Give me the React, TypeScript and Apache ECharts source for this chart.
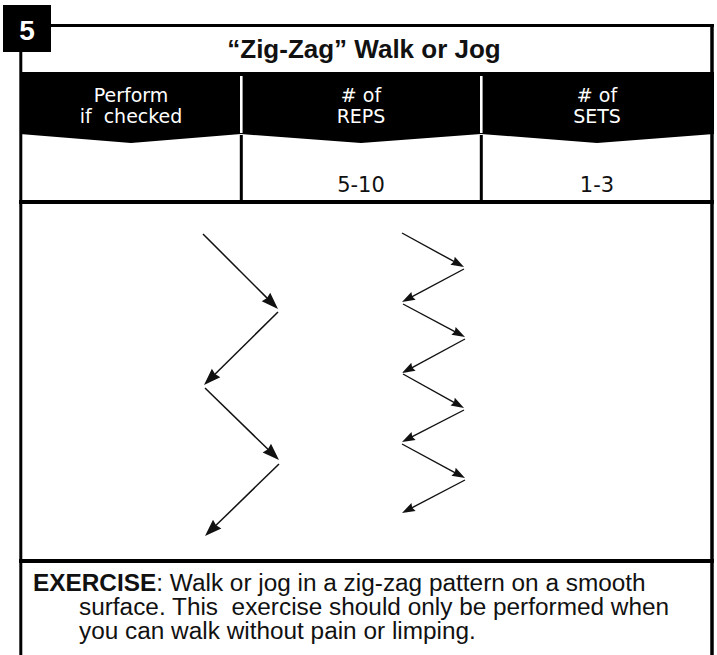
import React, { useEffect, useRef } from 'react';
import * as echarts from 'echarts';

// ---- content ----
const cardNumber = '5';
const title = '“Zig-Zag” Walk or Jog';
const headerTop = ['Perform', '# of', '# of'];
const headerBottom = ['if  checked', 'REPS', 'SETS'];
const rowValues = ['', '5-10', '1-3'];
const exerciseLabel = 'EXERCISE';
const exerciseLine1 = ': Walk or jog in a zig-zag pattern on a smooth';
const exerciseLine2 = 'surface. This  exercise should only be performed when';
const exerciseLine3 = 'you can walk without pain or limping.';

// ---- zig-zag paths: segments [x1, y1, x2, y2] in figure-panel units ----
const wideZigZag = [
  [181, 30, 256, 105],
  [256, 108, 182, 181],
  [183, 184, 257, 256],
  [257, 260, 183, 332],
];
const tightZigZag = [
  [380, 29, 442, 63],
  [442, 65, 380, 98],
  [381, 100, 443, 133],
  [443, 135, 380, 169],
  [381, 170, 442, 204],
  [442, 206, 380, 238],
  [380, 240, 443, 274],
  [443, 276, 380, 309],
];
const panelWidth = 690;
const panelHeight = 355;

const INK = '#111111';

function arrowRenderer(headLen: number, headW: number, lw: number) {
  return (params: any, api: any) => {
    const p1 = api.coord([api.value(0), api.value(1)]);
    const p2 = api.coord([api.value(2), api.value(3)]);
    const dx = p2[0] - p1[0];
    const dy = p2[1] - p1[1];
    const L = Math.hypot(dx, dy) || 1;
    const ux = dx / L;
    const uy = dy / L;
    const nx = -uy;
    const ny = ux;
    const bx = p2[0] - ux * headLen;
    const by = p2[1] - uy * headLen;
    return {
      type: 'group',
      children: [
        {
          type: 'line',
          shape: { x1: p1[0], y1: p1[1], x2: bx + ux * 2, y2: by + uy * 2 },
          style: { stroke: INK, lineWidth: lw },
        },
        {
          type: 'polygon',
          shape: {
            points: [
              [p2[0], p2[1]],
              [bx + (nx * headW) / 2, by + (ny * headW) / 2],
              [bx + ux * 1.5, by + uy * 1.5],
              [bx - (nx * headW) / 2, by - (ny * headW) / 2],
            ],
          },
          style: { fill: INK },
        },
      ],
    };
  };
}

const colCenters = [131, 361, 597];

export default function App() {
  const ref = useRef<HTMLDivElement>(null);

  useEffect(() => {
    if (!ref.current) return;
    const chart = echarts.init(ref.current, undefined, { renderer: 'svg' });

    const headerFont = 'DejaVu Sans, Verdana, sans-serif';
    const bodyFont = 'Liberation Sans, Arial, Helvetica, sans-serif';

    const elements: any[] = [];
    // header black band with chevron bottoms
    elements.push({
      type: 'polygon',
      shape: {
        points: [
          [20, 72],
          [714, 72],
          [714, 134],
          [597, 143],
          [481, 134],
          [361, 143],
          [241, 134],
          [131, 143],
          [20, 134],
        ],
      },
      style: { fill: '#000' },
    });
    // dividers
    [241.3, 481.3].forEach((x) => {
      elements.push({
        type: 'line',
        shape: { x1: x, y1: 76, x2: x, y2: 133 },
        style: { stroke: '#fff', lineWidth: 2.6 },
      });
      elements.push({
        type: 'line',
        shape: { x1: x, y1: 135, x2: x, y2: 203 },
        style: { stroke: '#000', lineWidth: 3 },
      });
    });
    // borders
    elements.push({ type: 'line', shape: { x1: 50, y1: 25.5, x2: 714, y2: 25.5 }, style: { stroke: '#000', lineWidth: 3 } });
    elements.push({ type: 'line', shape: { x1: 20.8, y1: 50, x2: 20.8, y2: 655 }, style: { stroke: '#000', lineWidth: 3 } });
    elements.push({ type: 'line', shape: { x1: 712, y1: 24, x2: 712, y2: 655 }, style: { stroke: '#000', lineWidth: 3.5 } });
    elements.push({ type: 'line', shape: { x1: 19, y1: 202, x2: 714, y2: 202 }, style: { stroke: '#000', lineWidth: 4 } });
    elements.push({ type: 'line', shape: { x1: 19, y1: 561, x2: 714, y2: 561 }, style: { stroke: '#000', lineWidth: 4 } });
    // number box
    elements.push({ type: 'rect', shape: { x: 3, y: 5, width: 48, height: 47 }, style: { fill: '#000' } });
    elements.push({
      type: 'text',
      style: {
        text: cardNumber, x: 27, y: 30, fill: '#fff', fontSize: 28, fontWeight: 'bold',
        fontFamily: bodyFont, align: 'center', verticalAlign: 'middle',
      },
    });
    // title
    elements.push({
      type: 'text',
      style: {
        text: title, x: 364, y: 49, fill: INK, fontSize: 26, fontWeight: 'bold',
        fontFamily: bodyFont, align: 'center', verticalAlign: 'middle',
      },
    });
    // header texts + row values
    colCenters.forEach((cx, i) => {
      elements.push({
        type: 'text',
        style: {
          text: headerTop[i], x: cx, y: 94.5, fill: '#fff', fontSize: 19,
          fontFamily: headerFont, align: 'center', verticalAlign: 'middle',
        },
      });
      elements.push({
        type: 'text',
        style: {
          text: headerBottom[i], x: cx, y: 115.5, fill: '#fff', fontSize: 19,
          fontFamily: headerFont, align: 'center', verticalAlign: 'middle',
        },
      });
      if (rowValues[i]) {
        elements.push({
          type: 'text',
          style: { text: rowValues[i], x: cx, y: 185, fill: INK, fontSize: 21, fontFamily: headerFont, align: 'center', verticalAlign: 'middle' },
        });
      }
    });
    // exercise description (slightly widened text)
    const bodySize = 23;
    const widen = 1.06;
    elements.push({
      type: 'text',
      x: 33, y: 583.5, scaleX: widen,
      style: {
        text: '{b|' + exerciseLabel + '}{n|' + exerciseLine1 + '}',
        x: 0, y: 0, verticalAlign: 'middle', align: 'left',
        rich: {
          b: { fontSize: bodySize, fontWeight: 'bold', fontFamily: bodyFont, fill: INK },
          n: { fontSize: bodySize, fontFamily: bodyFont, fill: INK },
        },
      },
    });
    elements.push({
      type: 'text',
      x: 79, y: 607.5, scaleX: widen,
      style: { text: exerciseLine2, x: 0, y: 0, fill: INK, fontSize: bodySize, fontFamily: bodyFont, align: 'left', verticalAlign: 'middle' },
    });
    elements.push({
      type: 'text',
      x: 79, y: 631.5, scaleX: widen,
      style: { text: exerciseLine3, x: 0, y: 0, fill: INK, fontSize: bodySize, fontFamily: bodyFont, align: 'left', verticalAlign: 'middle' },
    });

    chart.setOption({
      animation: false,
      backgroundColor: '#fff',
      grid: { left: 22, top: 204, width: panelWidth, height: panelHeight },
      xAxis: { type: 'value', min: 0, max: panelWidth, show: false },
      yAxis: { type: 'value', min: 0, max: panelHeight, inverse: true, show: false },
      series: [
        {
          type: 'custom',
          name: 'wide',
          renderItem: arrowRenderer(17, 12, 1.5),
          encode: { x: [0, 2], y: [1, 3] },
          data: wideZigZag,
          silent: true,
        },
        {
          type: 'custom',
          name: 'tight',
          renderItem: arrowRenderer(13, 9, 1.4),
          encode: { x: [0, 2], y: [1, 3] },
          data: tightZigZag,
          silent: true,
        },
      ],
      graphic: { elements },
    });

    return () => chart.dispose();
  }, []);

  return (
    <div
      ref={ref}
      style={{ position: 'fixed', left: 0, top: 0, width: 717, height: 655, background: '#fff' }}
    />
  );
}
